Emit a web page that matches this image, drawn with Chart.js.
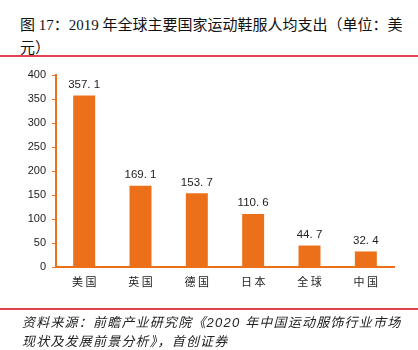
<!DOCTYPE html>
<html>
<head>
<meta charset="utf-8">
<script src="https://cdn.jsdelivr.net/npm/chart.js@4/dist/chart.umd.min.js"></script>
<style>
  body { margin: 0; background: #fff; }
  #wrap { position: relative; width: 418px; height: 350px; overflow: hidden; }
  #title { position: absolute; left: 20px; top: 14px; font: 15px "Liberation Serif", "Noto Sans CJK SC", serif; line-height: 23px; color: #111; white-space: nowrap; }
  .rule { position: absolute; left: 0; width: 418px; height: 1.5px; background: #e2434f; }
  #src { position: absolute; left: 22px; top: 313px; font: italic 13px "Liberation Sans", "Noto Sans CJK SC", sans-serif; letter-spacing: 1.2px; line-height: 19px; color: #222; white-space: nowrap; }
  canvas { position: absolute; left: 0; top: 0; }
</style>
</head>
<body>
<div id="wrap">
  <div id="title">图 17：2019 年全球主要国家运动鞋服人均支出（单位：美<br>元）</div>
  <div class="rule" style="top:55px"></div>
  <canvas id="c" width="418" height="350"></canvas>
  <div class="rule" style="top:308px"></div>
  <div id="src">资料来源：前瞻产业研究院《2020 年中国运动服饰行业市场<br>现状及发展前景分析》，首创证券</div>
</div>
<script>
// data
const countries = ['美国', '英国', '德国', '日本', '全球', '中国'];
const spending = [357.1, 169.1, 153.7, 110.6, 44.7, 32.4];
const valueLabels = ['357. 1', '169. 1', '153. 7', '110. 6', '44. 7', '32. 4'];

const orange = '#ec7019';

// write the value over each bar
const barLabels = {
  id: 'barLabels',
  afterDatasetsDraw(chart) {
    const ctx = chart.ctx;
    const meta = chart.getDatasetMeta(0);
    ctx.save();
    ctx.font = '11.5px "Liberation Sans", "DejaVu Sans", sans-serif';
    ctx.fillStyle = '#222';
    ctx.textAlign = 'center';
    ctx.textBaseline = 'bottom';
    meta.data.forEach((bar, i) => {
      ctx.fillText(valueLabels[i], bar.x, bar.y - 5);
    });
    ctx.restore();
  }
};

new Chart(document.getElementById('c'), {
  type: 'bar',
  data: {
    labels: countries,
    datasets: [{
      data: spending,
      backgroundColor: orange,
      borderWidth: 0,
      barPercentage: 0.39,
      categoryPercentage: 1
    }]
  },
  options: {
    responsive: false,
    animation: false,
    layout: { padding: { top: 75, right: 24, left: 0, bottom: 0 } },
    plugins: { legend: { display: false }, tooltip: { enabled: false } },
    scales: {
      x: {
        grid: { display: false, drawTicks: false },
        border: { color: orange, width: 2 },
        ticks: {
          padding: 8,
          color: '#222',
          font: { size: 11, family: '"Noto Sans CJK SC", sans-serif' },
          callback: (v, i) => countries[i].split('').join(' ')
        },
        afterFit(scale) { scale.height = 83; }
      },
      y: {
        min: 0,
        max: 400,
        ticks: { stepSize: 50, padding: 6, color: '#222', font: { size: 11, family: '"Liberation Sans", "DejaVu Sans", sans-serif' } },
        grid: { drawOnChartArea: false, drawTicks: true, tickLength: 4, color: orange },
        border: { color: orange, width: 2 },
        afterFit(scale) { scale.width = 56; }
      }
    }
  },
  plugins: [barLabels]
});
</script>
</body>
</html>
